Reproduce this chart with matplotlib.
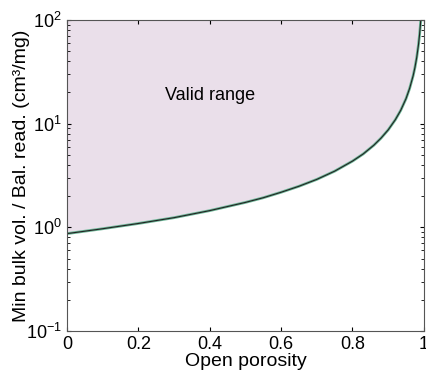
import numpy as np
import matplotlib
matplotlib.use('Agg')
import matplotlib.pyplot as plt

plt.rcParams['font.family'] = ['Liberation Sans', 'DejaVu Sans']

# open porosity vs minimum bulk volume / balance reading
porosity = [0.0, 0.1, 0.2, 0.3, 0.4, 0.5, 0.55, 0.6, 0.65, 0.7, 0.75, 0.8,
            0.83, 0.86, 0.88, 0.9, 0.92, 0.935, 0.95, 0.96, 0.97, 0.975,
            0.98, 0.985, 0.988, 0.99, 0.9913]
min_vol = [0.87, 0.97, 1.09, 1.24, 1.45, 1.74, 1.93, 2.18, 2.49, 2.9, 3.48,
           4.35, 5.1, 6.2, 7.25, 8.7, 10.9, 13.4, 17.4, 21.8, 29.0, 34.8,
           43.5, 58.0, 72.5, 87.0, 100.0]

fig = plt.figure(figsize=(4.26, 3.75), dpi=100)
ax = fig.add_axes([0.157, 0.117, 0.838, 0.83])

ax.fill_between(porosity, min_vol, 100, color='#eadfea', lw=0)
ax.plot(porosity, min_vol, color='#6bb596', lw=2.0)
ax.plot(porosity, min_vol, color='#222222', lw=0.8)

ax.text(0.4, 18.5, 'Valid range', ha='center', va='center', fontsize=13)

ax.set_yscale('log')
ax.set_xlim(0, 1)
ax.set_ylim(0.1, 100)
ax.set_xticks([0, 0.2, 0.4, 0.6, 0.8, 1])
ax.set_xticklabels(['0', '0.2', '0.4', '0.6', '0.8', '1'])
ax.tick_params(which='both', direction='in', top=True, right=True, labelsize=13)
ax.tick_params(which='major', length=3)
ax.tick_params(which='minor', length=2)
ax.set_xlabel('Open porosity', fontsize=14, labelpad=0)
ax.set_ylabel('Min bulk vol. / Bal. read. (cm\u00b3/mg)', fontsize=14, labelpad=-3)
for s in ax.spines.values():
    s.set_color('#555555')
    s.set_linewidth(0.8)

fig.savefig('out.png', dpi=100)
